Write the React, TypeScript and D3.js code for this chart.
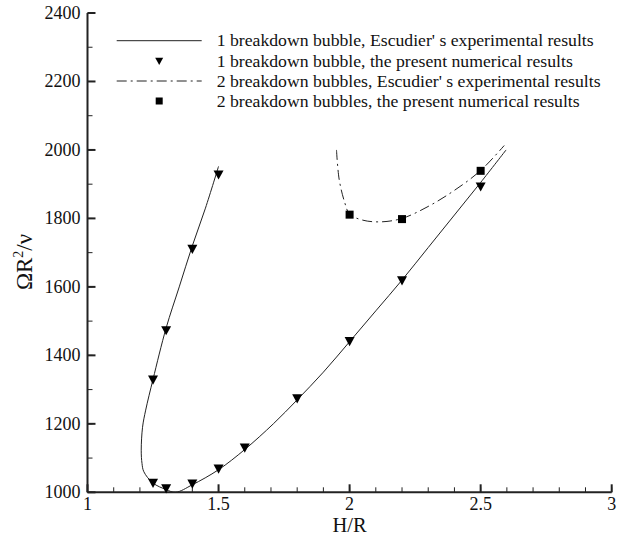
import React from "react";
import * as d3 from "d3";

const xTicksMajor = [1, 1.5, 2, 2.5, 3];
const xTickLabels = ["1", "1.5", "2", "2.5", "3"];
const yTicksMajor = [1000, 1200, 1400, 1600, 1800, 2000, 2200, 2400];

// 1 breakdown bubble, Escudier's experimental results
const exp1X = [1.5, 1.45, 1.4, 1.35, 1.3, 1.25, 1.222, 1.21, 1.205, 1.208, 1.215, 1.25, 1.3, 1.336, 1.4, 1.5, 1.6, 1.709, 1.8, 1.9, 2.0, 2.1, 2.2, 2.3, 2.4, 2.5, 2.597];
const exp1Y = [1952, 1830, 1720, 1600, 1480, 1330, 1240, 1190, 1123, 1084, 1060, 1027, 1008, 1000, 1022, 1066, 1125, 1200, 1270, 1351, 1440, 1530, 1620, 1715, 1810, 1905, 2000];

// 1 breakdown bubble, present numerical results
const num1X = [1.5, 1.4, 1.3, 1.25, 1.25, 1.3, 1.4, 1.5, 1.6, 1.8, 2.0, 2.2, 2.5];
const num1Y = [1928, 1711, 1473, 1329, 1027, 1011, 1025, 1069, 1130, 1274, 1441, 1619, 1893];

// 2 breakdown bubbles, Escudier's experimental results
const exp2X = [1.95, 1.96, 1.98, 2.0, 2.05, 2.12, 2.2, 2.3, 2.4, 2.5, 2.59];
const exp2Y = [2000, 1915, 1850, 1813, 1795, 1790, 1800, 1835, 1882, 1940, 2013];

// 2 breakdown bubbles, present numerical results
const num2X = [2.0, 2.2, 2.5];
const num2Y = [1811, 1798, 1939];

const legendLabels = [
  "1 breakdown bubble, Escudier' s experimental results",
  "1 breakdown bubble, the present numerical results",
  "2 breakdown bubbles, Escudier' s experimental results",
  "2 breakdown bubbles, the present numerical results",
];

const W = 629;
const H = 537;
const FONT = "'Liberation Serif', 'DejaVu Serif', serif";

export default function App() {
  const x = d3.scaleLinear().domain([1, 3]).range([87.5, 611.7]);
  const y = d3.scaleLinear().domain([1000, 2400]).range([492.3, 13]);

  const xMinor = d3.range(1, 3.0001, 0.1).map((v) => +v.toFixed(2));
  const yMinor = d3.range(1000, 2401, 100);

  const line = d3
    .line<[number, number]>()
    .x((d) => x(d[0]))
    .y((d) => y(d[1]))
    .curve(d3.curveCatmullRom.alpha(0.5));

  const exp1 = exp1X.map((v, i) => [v, exp1Y[i]] as [number, number]);
  const exp2 = exp2X.map((v, i) => [v, exp2Y[i]] as [number, number]);

  const tri = (cx: number, cy: number, s: number) =>
    `M${cx - s / 2},${cy - s * 0.42}L${cx + s / 2},${cy - s * 0.42}L${cx},${cy + s * 0.5}Z`;

  const x0 = x(1);
  const y0 = y(1000);
  const stroke = "#222";

  const legX1 = 116.7;
  const legX2 = 201.7;
  const legTextX = 216.7;
  const legY = [40.7, 61, 81, 101];

  return (
    <svg width={W} height={H} style={{ position: "absolute", left: 0, top: 0, background: "#fff" }} fontFamily={FONT}>
      {/* minor ticks */}
      {xMinor.map((v) => (
        <line key={"xm" + v} x1={x(v)} x2={x(v)} y1={y0} y2={y0 - 5} stroke={stroke} strokeWidth={1} />
      ))}
      {yMinor.map((v) => (
        <line key={"ym" + v} x1={x0} x2={x0 + 5} y1={y(v)} y2={y(v)} stroke={stroke} strokeWidth={1} />
      ))}
      {xTicksMajor.map((v) => (
        <line key={"xM" + v} x1={x(v)} x2={x(v)} y1={y0} y2={y0 - 8} stroke={stroke} strokeWidth={2} />
      ))}
      {yTicksMajor.map((v) => (
        <line key={"yM" + v} x1={x0} x2={x0 + 8} y1={y(v)} y2={y(v)} stroke={stroke} strokeWidth={2} />
      ))}
      {/* axes */}
      <line x1={x0} x2={x(3)} y1={y0} y2={y0} stroke={stroke} strokeWidth={2} />
      <line x1={x0} x2={x0} y1={y0} y2={y(2400)} stroke={stroke} strokeWidth={2} />

      {/* tick labels */}
      {xTicksMajor.map((v, i) => (
        <text key={"xl" + v} x={x(v)} y={509.5} textAnchor="middle" fontSize={18} fill="#111">
          {xTickLabels[i]}
        </text>
      ))}
      {yTicksMajor.map((v) => (
        <text key={"yl" + v} x={x0 - 7} y={y(v) + 6} textAnchor="end" fontSize={18} fill="#111">
          {v}
        </text>
      ))}

      {/* axis titles */}
      <text x={x(2)} y={532} textAnchor="middle" fontSize={20.5} fill="#111">
        H/R
      </text>
      <text transform={`translate(32,${262}) rotate(-90)`} textAnchor="middle" fontSize={23} fill="#111">
        ΩR<tspan dy={-9} fontSize={14}>2</tspan>
        <tspan dy={9}>/ν</tspan>
      </text>

      {/* data */}
      <path d={line(exp1) || ""} fill="none" stroke={stroke} strokeWidth={1} />
      <path d={line(exp2) || ""} fill="none" stroke={stroke} strokeWidth={1} strokeDasharray="10,4,2,4" />
      {num1X.map((v, i) => (
        <path key={"t" + i} d={tri(x(v), y(num1Y[i]), 10)} fill="#000" />
      ))}
      {num2X.map((v, i) => (
        <rect key={"s" + i} x={x(v) - 4} y={y(num2Y[i]) - 4} width={8} height={8} fill="#000" />
      ))}

      {/* legend */}
      <line x1={legX1} x2={legX2} y1={legY[0]} y2={legY[0]} stroke={stroke} strokeWidth={1} />
      <path d={tri((legX1 + legX2) / 2, legY[1], 8)} fill="#000" />
      <line x1={legX1} x2={legX2} y1={legY[2]} y2={legY[2]} stroke={stroke} strokeWidth={1} strokeDasharray="10,4,2,4" />
      <rect x={(legX1 + legX2) / 2 - 3.5} y={legY[3] - 3.5} width={7} height={7} fill="#000" />
      {legendLabels.map((t, i) => (
        <text key={"lg" + i} x={legTextX} y={legY[i] + 5.5} fontSize={17.7} fill="#111">
          {t}
        </text>
      ))}
    </svg>
  );
}
